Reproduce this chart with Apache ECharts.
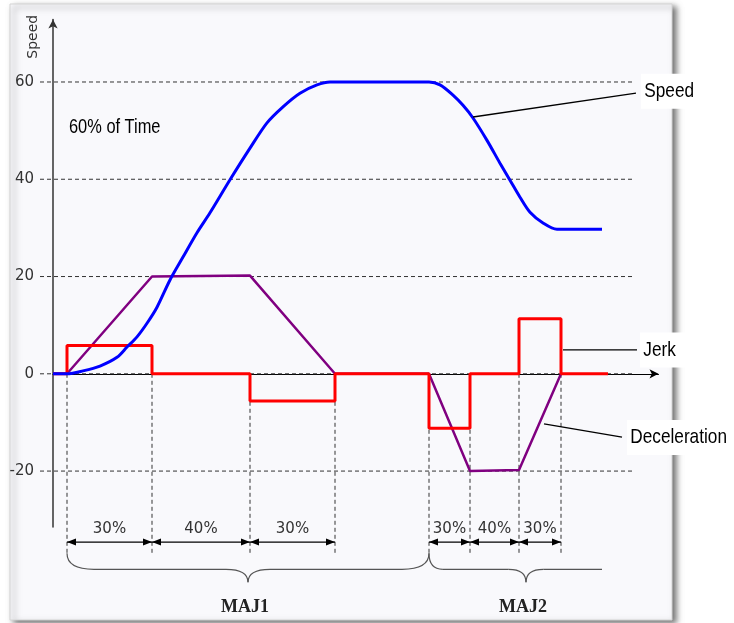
<!DOCTYPE html>
<html>
<head>
<meta charset="utf-8">
<script src="https://cdn.jsdelivr.net/npm/echarts@6/dist/echarts.min.js"></script>
<style>html,body{margin:0;background:#fff}#chart{width:734px;height:623px}</style>
</head>
<body>
<div id="chart"></div>
<script>
// time axis: 0 = y axis, speed/accel/jerk all share one value axis
const speedT = [0, 14, 30, 47, 64, 74, 84, 94, 104, 117, 130, 144, 157, 177, 197, 214, 230, 247, 264, 277, 282, 376, 387, 400, 410, 420, 434, 447, 457, 467, 477, 490, 504, 514, 549];
const speedV = [0, 0, 0.6, 1.6, 3.4, 5.5, 7.6, 10.4, 13.7, 19.3, 24, 29, 33.1, 39.9, 46.4, 51.6, 54.9, 57.7, 59.4, 60, 60, 60, 59.4, 57.3, 55.2, 52.6, 48, 43.3, 39.8, 36.3, 33.2, 31, 29.7, 29.7, 29.7];
const jerkT = [0, 14, 14, 99, 99, 197, 197, 282, 282, 376, 376, 417, 417, 466, 466, 508, 508, 555];
const jerkV = [0, 0, 5.8, 5.8, 0, 0, -5.6, -5.6, 0, 0, -11.2, -11.2, 0, 0, 11.3, 11.3, 0, 0];
const accelT = [0, 14, 99, 197, 282, 376, 417, 466, 508];
const accelV = [0, 0, 20, 20.2, 0, 0, -20, -19.8, 0];
const yTicks = [-20, 0, 20, 40, 60];

// phase spans under the axis
const spanStart = [14, 99, 197, 376, 417, 466];
const spanEnd = [99, 197, 282, 417, 466, 508];
const spanLabel = ['30%', '40%', '30%', '30%', '40%', '30%'];
const phaseEdges = [14, 99, 197, 282, 376, 417, 466, 508];

// braces
const majName = ['MAJ1', 'MAJ2'];
const majStart = [14, 376];
const majEnd = [376, 549];
const majTip = [195, 473];
const majRightCurl = [true, false];

// call-outs
const noteText = ['Speed', 'Jerk', 'Deceleration'];
const noteFromT = [420, 510, 491];
const noteFromV = [52.8, 4.9, -10.3];
const noteToT = [583, 584, 569];
const noteToV = [57.7, 4.9, -13.0];
const noteTextT = [588, 587, 574];
const noteTextV = [58.1, 4.9, -13.1];

// no narrow font installed, so squeeze Liberation Sans instead
const SQUEEZE = 0.82;

const chart = echarts.init(document.getElementById('chart'));

function seg(a, b, style) {
  return { type: 'line', shape: { x1: a[0], y1: a[1], x2: b[0], y2: b[1] }, style: style };
}
function quad(a, c, b, style) {
  return { type: 'bezierCurve', shape: { x1: a[0], y1: a[1], cpx1: c[0], cpy1: c[1], x2: b[0], y2: b[1] }, style: style };
}
function narrowText(p, s, size, extra) {
  return {
    type: 'text', x: p[0], y: p[1], scaleX: SQUEEZE,
    style: Object.assign({ text: s, fill: '#000', font: size + "px 'Liberation Sans', Arial, sans-serif", align: 'left', verticalAlign: 'middle' }, extra || {})
  };
}

function drawGuides(params, api) {
  const kids = [];
  const dash = { stroke: '#333', lineWidth: 1, lineDash: [4, 3], fill: null };
  yTicks.forEach(v => kids.push(seg(api.coord([-13, v]), api.coord([579, v]), dash)));
  phaseEdges.forEach(t => kids.push(seg(api.coord([t, 0]), api.coord([t, -37.3]), dash)));
  return { type: 'group', children: kids };
}

function drawNotes(params, api) {
  const kids = [];
  const ink = { stroke: '#000', lineWidth: 1.2, fill: null };
  // double arrows + percent labels
  spanStart.forEach((t0, i) => {
    const a = api.coord([t0, -34.6]);
    const b = api.coord([spanEnd[i], -34.6]);
    kids.push(seg(a, b, ink));
    kids.push({ type: 'polygon', shape: { points: [[a[0], a[1]], [a[0] + 9, a[1] - 3.5], [a[0] + 9, a[1] + 3.5]] }, style: { fill: '#000' } });
    kids.push({ type: 'polygon', shape: { points: [[b[0], b[1]], [b[0] - 9, b[1] - 3.5], [b[0] - 9, b[1] + 3.5]] }, style: { fill: '#000' } });
    kids.push({ type: 'text', x: (a[0] + b[0]) / 2, y: a[1] - 13, style: { text: spanLabel[i], fill: '#333', font: "15px 'DejaVu Sans', sans-serif", align: 'center', verticalAlign: 'middle' } });
  });
  // braces
  const bs = { stroke: '#555', lineWidth: 1.2, fill: null };
  majStart.forEach((t0, i) => {
    const xa = api.coord([t0, 0])[0];
    const xb = api.coord([majEnd[i], 0])[0];
    const xc = api.coord([majTip[i], 0])[0];
    const yH = api.coord([0, -40.2])[1];
    const yTop = yH - 16, yCusp = yH + 13;
    const w = xb - xa;
    const rE = Math.min(27, w * 0.08), rC = Math.min(22, w * 0.1);
    kids.push(quad([xa, yTop], [xa, yH], [xa + rE, yH], bs));
    kids.push(seg([xa + rE, yH], [xc - rC, yH], bs));
    kids.push(quad([xc - rC, yH], [xc, yH], [xc, yCusp], bs));
    kids.push(quad([xc, yCusp], [xc, yH], [xc + rC, yH], bs));
    if (majRightCurl[i]) {
      kids.push(seg([xc + rC, yH], [xb - rE, yH], bs));
      kids.push(quad([xb - rE, yH], [xb, yH], [xb, yTop], bs));
    } else {
      kids.push(seg([xc + rC, yH], [xb, yH], bs));
    }
    kids.push({ type: 'text', x: xc - 3, y: api.coord([0, -48.0])[1], style: { text: majName[i], fill: '#222', font: "bold 18px 'Liberation Serif', serif", align: 'center', verticalAlign: 'middle' } });
  });
  // call-outs
  noteText.forEach((s, i) => {
    kids.push(seg(api.coord([noteFromT[i], noteFromV[i]]), api.coord([noteToT[i], noteToV[i]]), { stroke: '#000', lineWidth: 1.3 }));
    kids.push(narrowText(api.coord([noteTextT[i], noteTextV[i]]), s, 21, { backgroundColor: '#fff', padding: [7, 80, 7, 4] }));
  });
  kids.push(narrowText(api.coord([16, 50.7]), '60% of Time', 20));
  const n = api.coord([-20, 69.3]);
  kids.push({ type: 'text', x: n[0], y: n[1], rotation: Math.PI / 2, style: { text: 'Speed', fill: '#333', font: "14px 'DejaVu Sans', sans-serif", align: 'center', verticalAlign: 'middle' } });
  return { type: 'group', children: kids };
}

const option = {
  animation: false,
  backgroundColor: '#fff',
  graphic: [{
    type: 'rect', z: -10, shape: { x: 10, y: 4, width: 662, height: 616 },
    style: { fill: '#f9f9fc', stroke: '#d4d4d4', lineWidth: 1, shadowBlur: 6, shadowOffsetX: 4, shadowOffsetY: 3, shadowColor: 'rgba(0,0,0,0.55)' }
  }],
  grid: { left: 53, right: 75.5, top: 19.5, bottom: 96 },
  xAxis: {
    type: 'value', min: 0, max: 605.5,
    axisLine: { onZero: true, symbol: ['none', 'arrow'], symbolSize: [7, 9], lineStyle: { color: '#000', width: 1 } },
    axisTick: { show: false }, axisLabel: { show: false }, splitLine: { show: false }
  },
  yAxis: {
    type: 'value', min: -31.5, max: 72.85,
    axisLine: { show: true, symbol: ['none', 'arrow'], symbolSize: [7, 9], lineStyle: { color: '#333', width: 1.5 } },
    axisTick: { show: false },
    axisLabel: { customValues: yTicks, margin: 19, color: '#333', fontSize: 15, fontFamily: 'DejaVu Sans' },
    splitLine: { show: false }
  },
  series: [
    { type: 'custom', name: 'guides', z: 1, silent: true, clip: false, renderItem: drawGuides, data: [[0, 0]] },
    { type: 'line', name: 'Deceleration', data: accelT.map((t, i) => [t, accelV[i]]), showSymbol: false, lineStyle: { color: '#800080', width: 2.5 }, z: 2 },
    { type: 'line', name: 'Jerk', data: jerkT.map((t, i) => [t, jerkV[i]]), showSymbol: false, lineStyle: { color: '#ff0000', width: 3 }, z: 3 },
    { type: 'line', name: 'Speed', data: speedT.map((t, i) => [t, speedV[i]]), showSymbol: false, smooth: 0.3, lineStyle: { color: '#0000ff', width: 3 }, z: 4 },
    { type: 'custom', name: 'notes', z: 5, silent: true, clip: false, renderItem: drawNotes, data: [[0, 0]] }
  ]
};
chart.setOption(option);
</script>
</body>
</html>
